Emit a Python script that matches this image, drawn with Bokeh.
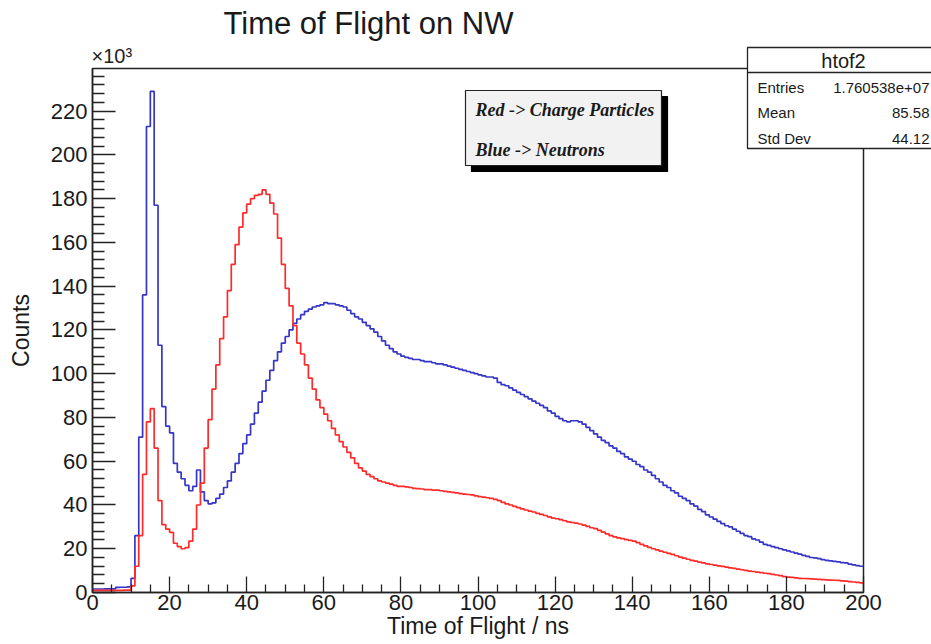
from bokeh.plotting import figure
from bokeh.models import Label, BoxAnnotation, FixedTicker, LinearAxis
from bokeh.embed import file_html
from bokeh.resources import INLINE

# ---------------- data (counts in units of 10^3, 1 ns bins from 0 to 200 ns) -------------
bin_edges_start = 0
bin_width = 1

neutrons_k = [
    1.6, 1.6, 1.6, 1.7, 1.7, 1.7, 2.3, 2.4, 2.4, 2.6,
    6.5, 26, 71, 136, 213, 229, 177, 113, 85, 76,
    73, 59, 55, 52, 49, 46.5, 48.5, 56, 46, 42,
    40.5, 41, 43, 45, 48, 51, 55, 59, 63.5, 68,
    72, 77, 82, 87, 92, 97, 101.5, 106, 110, 114,
    117, 120, 123, 125, 127, 128.5, 129.5, 130.5, 131, 131.5,
    132.5, 132, 132, 131.5, 131, 130.5, 129, 127.5, 126, 125,
    123.5, 122, 120.5, 119, 117, 115, 113, 111.5, 110, 109,
    108, 107.5, 107, 106.5, 106.5, 106, 105.5, 105.5, 105, 104.5,
    104.5, 104, 103.5, 103, 102.5, 102, 101.5, 101, 100.5, 100,
    99.5, 99, 98.5, 98.5, 98, 96, 95, 94.5, 93.5, 92.5,
    91.5, 90.5, 89.5, 88.5, 87.5, 86.5, 85.5, 84.5, 83, 82,
    80.5, 79.5, 78.5, 78, 78.5, 78.5, 78, 77, 75.5, 74,
    72.5, 71, 69.5, 68.5, 67, 66, 64.5, 63.5, 62, 61,
    60, 58.5, 57.5, 56, 55, 53.5, 52, 50.5, 49, 48,
    46.5, 45.5, 44, 43, 42, 40.5, 39.5, 38, 37, 35.5,
    34.5, 33.5, 32.5, 31.5, 30.5, 30, 29, 28, 27, 26,
    25.5, 24.5, 24, 23, 22, 21.5, 21, 20.5, 20, 19.5,
    19, 18.5, 18, 17.5, 17, 16.5, 16, 15.8, 15.5, 15,
    14.7, 14.5, 14.2, 14, 13.7, 13.5, 13, 12.6, 12.3, 12,
]

charged_k = [
    1.0, 1.0, 1.0, 1.0, 1.0, 1.0, 1.0, 1.0, 1.1, 1.1,
    3, 12, 26, 54, 78, 84, 66, 42, 31, 29,
    27.5, 22.5, 21, 20, 20.5, 23.5, 29, 40, 50, 66,
    79, 93, 104, 116, 126, 138, 150, 159, 167, 173.5,
    177.5, 180, 181.5, 182, 184, 182, 178, 173, 162, 150,
    139, 131, 122, 114, 109, 104, 98, 93, 88, 84.5,
    81.5, 78.5, 75, 72, 69, 66.5, 64, 61.5, 59, 57,
    55.5, 54, 53, 52, 51, 50.5, 50, 49.5, 49, 48.5,
    48.5, 48.3, 48, 47.6, 47.5, 47.3, 47, 47, 46.8, 46.8,
    46.5, 46.2, 46, 45.8, 45.5, 45.2, 45, 44.8, 44.6, 44.2,
    43.8, 43.6, 43.3, 43, 42.6, 42, 41.2, 40.5, 40, 39.4,
    38.8, 38.2, 37.7, 37.2, 36.8, 36.2, 35.7, 35.2, 34.6, 34,
    33.7, 33.3, 32.8, 32.3, 32, 31.7, 31.3, 30.8, 30.2, 29.6,
    29.2, 28.4, 27.6, 26.8, 26, 25.4, 25, 24.6, 24.2, 23.8,
    23.5, 22.8, 22, 21.3, 20.6, 20, 19.5, 18.9, 18.4, 17.9,
    17.4, 16.8, 16.2, 15.7, 15.2, 14.7, 14.3, 13.9, 13.5, 13.1,
    12.8, 12.5, 12.2, 11.9, 11.6, 11.3, 11, 10.7, 10.4, 10.1,
    9.8, 9.6, 9.3, 9.1, 8.8, 8.6, 8.3, 8, 7.7, 7.3,
    7, 6.9, 6.7, 6.5, 6.4, 6.3, 6.2, 6.1, 6, 5.9,
    5.8, 5.7, 5.6, 5.5, 5.3, 5.2, 5, 4.8, 4.6, 4.4,
]

x_ticks = [0, 20, 40, 60, 80, 100, 120, 140, 160, 180, 200]
y_ticks = [0, 20, 40, 60, 80, 100, 120, 140, 160, 180, 200, 220]

title_text = "Time of Flight on NW"
x_label = "Time of Flight / ns"
y_label = "Counts"
stats_name = "htof2"
stats_rows = ["Entries", "Mean", "Std Dev"]
stats_vals = ["1.760538e+07", "85.58", "44.12"]
legend_lines = ["Red -> Charge Particles", "Blue -> Neutrons"]

# ---------------- figure -------------
# The frame covers the whole canvas so that the stats box and titles are not clipped;
# the axes are drawn at fixed data locations inside it.
W, H = 931, 644
FL, FR, FT, FB = 92, 863, 68, 592          # pixel box of the histogram area
X0, X1 = 0, 200
Y0, Y1 = 0, 239.5
sx = (X1 - X0) / (FR - FL)
sy = (Y1 - Y0) / (FB - FT)
xr = (X0 - FL * sx, X1 + (W - FR) * sx)
yr = (Y0 - (H - FB) * sy, Y1 + FT * sy)

p = figure(width=W, height=H, x_range=xr, y_range=yr,
           output_backend="svg", toolbar_location=None,
           x_axis_location=None, y_axis_location=None,
           min_border=0)
p.title.visible = False
p.background_fill_color = "white"
p.border_fill_color = "white"
p.outline_line_color = None
p.xgrid.visible = False
p.ygrid.visible = False

FONT = "Liberation Sans"
INK = "#1a1a1a"
U = "canvas"   # canvas pixels, origin top-left, y downward


def label(cx, cy, text, size, align="left", font=FONT, style="normal", color=INK):
    p.add_layout(Label(x=cx, y=cy, x_units=U, y_units=U, text=text,
                       text_font=font, text_font_style=style,
                       text_font_size=size, text_baseline="middle",
                       text_align=align, text_color=color, level="overlay"))


def box(l, t, r, b, fill, line, lw=1.2, alpha=1.0):
    p.add_layout(BoxAnnotation(left=l, right=r, top=t, bottom=b,
                               left_units=U, right_units=U, top_units=U, bottom_units=U,
                               fill_color=fill, fill_alpha=alpha,
                               line_color=line, line_alpha=1.0, line_width=lw,
                               level="overlay"))

# frame of the histogram area
p.add_layout(BoxAnnotation(left=X0, right=X1, bottom=Y0, top=Y1,
                           fill_alpha=0, line_color="#222222", line_alpha=1.0,
                           line_width=1.5, level="underlay"))

# axes at fixed positions
xminor = [v for v in range(0, 201, 5) if v not in x_ticks]
yminor = [v for v in range(0, 240, 4) if v not in y_ticks]
xaxis = LinearAxis(fixed_location=Y0, bounds=(X0, X1),
                   ticker=FixedTicker(ticks=x_ticks, minor_ticks=xminor))
yaxis = LinearAxis(fixed_location=X0, bounds=(Y0, Y1),
                   ticker=FixedTicker(ticks=y_ticks, minor_ticks=yminor))
p.add_layout(xaxis, "below")
p.add_layout(yaxis, "left")

for ax in (xaxis, yaxis):
    ax.axis_line_color = "#222222"
    ax.axis_line_width = 1.5
    ax.major_tick_line_color = "#222222"
    ax.minor_tick_line_color = "#222222"
    ax.major_tick_line_width = 1.3
    ax.minor_tick_line_width = 1.3
    ax.major_tick_out = 0
    ax.minor_tick_out = 0
    ax.major_label_text_font = FONT
    ax.major_label_text_font_size = "22px"
    ax.major_label_text_color = INK
    ax.axis_label_text_font = FONT
    ax.axis_label_text_font_size = "23px"
    ax.axis_label_text_font_style = "normal"
    ax.axis_label_text_color = INK

xaxis.major_tick_in = 16
xaxis.minor_tick_in = 8
yaxis.major_tick_in = 23
yaxis.minor_tick_in = 12
xaxis.major_label_standoff = 2
yaxis.major_label_standoff = 5
xaxis.axis_label = x_label
yaxis.axis_label = y_label
xaxis.axis_label_standoff = 0
yaxis.axis_label_standoff = 14

# histograms (step outlines)
edges = [bin_edges_start + i * bin_width for i in range(len(neutrons_k) + 1)]
p.step(x=edges, y=neutrons_k + [neutrons_k[-1]], mode="after",
       line_color="#3535c8", line_width=1.7)
p.step(x=edges, y=charged_k + [charged_k[-1]], mode="after",
       line_color="#ff2a2a", line_width=1.7)

# title and multiplier
label(223, 23, title_text, "31px")
label(91, 55, "\u00d710\u00b3", "20px", color="#222222")

# legend text box with shadow
box(471, 96, 667, 171, "black", "black")
box(465, 90, 661, 165, "#f2f2f2", "#222222")
for txt, cy in zip(legend_lines, [109, 149]):
    label(475, cy, txt, "18px", font="Liberation Serif", style="bold italic")

# stats box
box(747, 47, 940, 148, "white", "#222222", lw=1.3)
box(747, 72, 940, 72, "white", "#222222", lw=1.3, alpha=0.0)
label(843, 60, stats_name, "20px", align="center")
for name, val, cy in zip(stats_rows, stats_vals, [87, 112, 138]):
    label(757, cy, name, "15px")
    label(929, cy, val, "15px", align="right")

open("out.html", "w").write(file_html(p, INLINE))
